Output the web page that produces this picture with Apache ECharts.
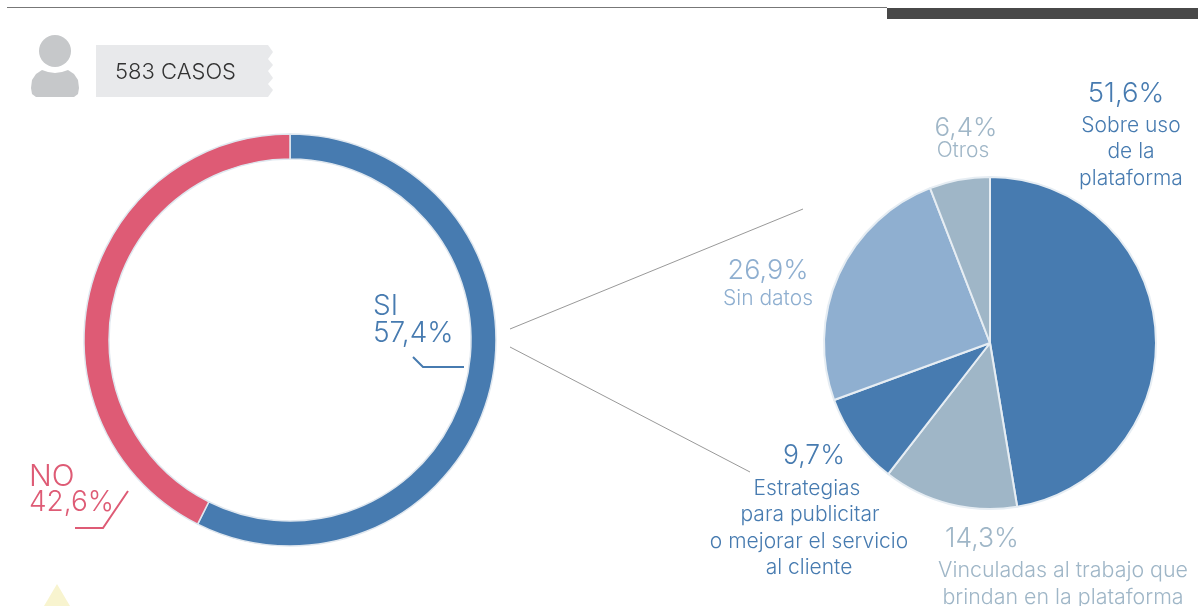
<!DOCTYPE html>
<html>
<head>
<meta charset="utf-8">
<style>
  html, body { margin: 0; padding: 0; background: #fff; }
  #chart { width: 1198px; height: 606px; }
</style>
<script src="https://cdn.jsdelivr.net/npm/echarts@6/dist/echarts.min.js"></script>
</head>
<body>
<div id="chart"></div>
<script>
// main donut
var mainCategories = ['SI', 'NO'];
var mainValues = [57.4, 42.6];
// motives pie, clockwise from the top
var motiveCategories = ['Sobre uso de la plataforma', 'Vinculadas al trabajo que brindan en la plataforma', 'Estrategias para publicitar o mejorar el servicio al cliente', 'Sin datos', 'Otros'];
var motiveValues = [51.6, 14.3, 9.7, 26.9, 6.4];
var casesLabel = '583 CASOS';

var BLUE = '#477bb0', PINK = '#de5b75', SKY = '#8fafd0', SLATE = '#9fb6c7';
var FONT = 'Inter';

var chart = echarts.init(document.getElementById('chart'));

function pct(v) {
    return v.toFixed(1).replace('.', ',') + '%';
}

function txt(x, y, text, size, color, align) {
    return {
        type: 'text', x: x, y: y, silent: true,
        style: { text: text, fontFamily: FONT, fontWeight: 300, fontSize: size, fill: color, align: align || 'center', verticalAlign: 'middle' }
    };
}

function line(points, color, width) {
    return {
        type: 'polyline', silent: true,
        shape: { points: points },
        style: { stroke: color, lineWidth: width, fill: null }
    };
}

var decor = [
    { type: 'rect', silent: true, shape: { x: 7, y: 7, width: 880, height: 1 }, style: { fill: '#777777' } },
    { type: 'rect', silent: true, shape: { x: 887, y: 8, width: 311, height: 11 }, style: { fill: '#484848' } },
    // person icon
    { type: 'circle', silent: true, shape: { cx: 55, cy: 51, r: 16 }, style: { fill: '#c6c8ca' } },
    { type: 'polygon', silent: true, shape: { points: [[42, 70], [48, 72], [55, 73], [62, 72], [68, 70], [74, 74], [78, 80], [79, 88], [78, 94], [74, 97], [36, 97], [32, 94], [31, 88], [32, 80], [36, 74]] }, style: { fill: '#c6c8ca' } },
    // ticket behind the case count
    { type: 'polygon', silent: true, shape: { points: [[96, 45], [268, 45], [273, 52], [268, 59], [273, 65], [268, 71], [273, 78], [268, 84], [273, 90], [268, 97], [96, 97]] }, style: { fill: '#e8e9eb' } },
    // zoom lines between the two pies
    line([[510, 329], [803, 209]], '#999999', 1),
    line([[510, 347], [750, 472]], '#999999', 1),
    // leaders under the main labels
    line([[413, 357], [423, 367], [464, 367]], BLUE, 2),
    line([[128, 491], [103, 528], [75, 528]], PINK, 2),
    { type: 'polygon', silent: true, shape: { points: [[57, 584], [70, 606], [44, 606]] }, style: { fill: '#f8f4cf' } }
];

var texts = [
    txt(115, 72, casesLabel, 22, '#333333', 'left'),
    txt(373, 307, mainCategories[0], 28, BLUE, 'left'),
    txt(373, 334, pct(mainValues[0]), 28, BLUE, 'left'),
    txt(29, 477, mainCategories[1], 30, PINK, 'left'),
    txt(29, 503, pct(mainValues[1]), 28, PINK, 'left'),

    txt(1126, 94, pct(motiveValues[0]), 27.5, BLUE),
    txt(1131, 126, 'Sobre uso', 21, BLUE),
    txt(1131, 152, 'de la', 21, BLUE),
    txt(1131, 179, 'plataforma', 21, BLUE),

    txt(982, 539, pct(motiveValues[1]), 26.5, SLATE),
    txt(1063, 571, 'Vinculadas al trabajo que', 21.4, SLATE),
    txt(1063, 598, 'brindan en la plataforma', 21.4, SLATE),

    txt(814, 456, pct(motiveValues[2]), 26.5, BLUE),
    txt(807, 489, 'Estrategias', 21, BLUE),
    txt(810, 515, 'para publicitar', 21, BLUE),
    txt(809, 542, 'o mejorar el servicio', 21, BLUE),
    txt(809, 568, 'al cliente', 21, BLUE),

    txt(768, 271, pct(motiveValues[3]), 27, SKY),
    txt(768, 299, motiveCategories[3], 21, SKY),

    txt(966, 128, pct(motiveValues[4]), 26, SLATE),
    txt(963, 151, motiveCategories[4], 21, SLATE)
];

chart.setOption({
    animation: false,
    backgroundColor: '#ffffff',
    graphic: { elements: decor.concat(texts) },
    series: [
        {
            type: 'pie',
            center: [290, 340],
            radius: [181, 206],
            startAngle: 90,
            silent: true,
            label: { show: false },
            labelLine: { show: false },
            itemStyle: { borderColor: '#dfe7ef', borderWidth: 1.5 },
            data: mainCategories.map(function (name, i) {
                return { name: name, value: mainValues[i], itemStyle: { color: i === 0 ? BLUE : PINK } };
            })
        },
        {
            type: 'pie',
            center: [990, 343],
            radius: [0, 166],
            startAngle: 90,
            silent: true,
            label: { show: false },
            labelLine: { show: false },
            itemStyle: { borderColor: '#e6edf3', borderWidth: 2 },
            data: motiveCategories.map(function (name, i) {
                return { name: name, value: motiveValues[i], itemStyle: { color: [BLUE, SLATE, BLUE, SKY, SLATE][i] } };
            })
        }
    ]
});
</script>
</body>
</html>
